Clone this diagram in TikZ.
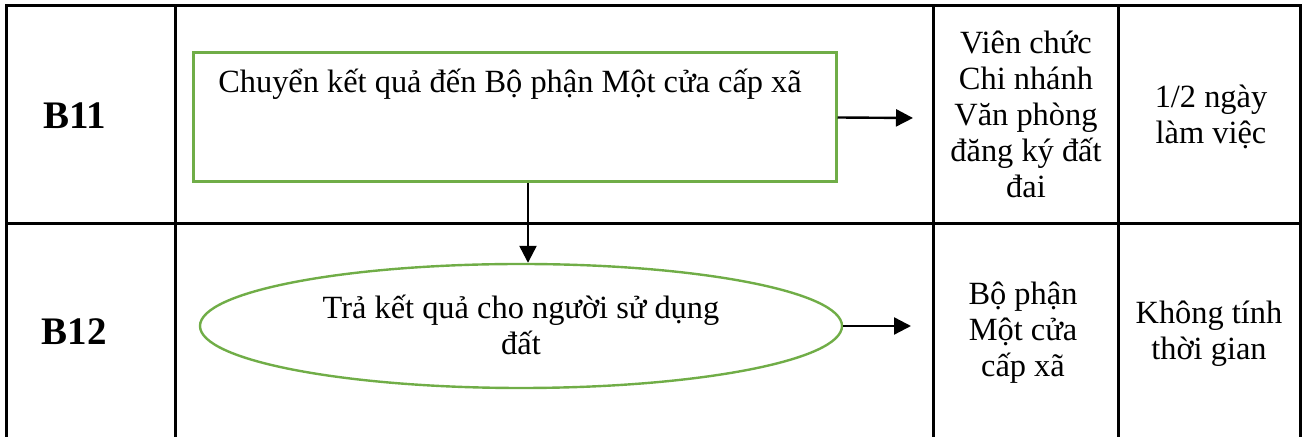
\documentclass[tikz,border=0pt]{standalone}
\usepackage{fontspec}
\setmainfont{Liberation Serif}
\usepackage{tikz}
\usetikzlibrary{arrows.meta,positioning,shapes.geometric}
\definecolor{flowgreen}{RGB}{112,173,71}

\begin{document}
\begin{tikzpicture}[x=0.5pt,y=-0.5pt,
    txt/.style={font=\fontsize{16.2}{18}\selectfont,inner sep=0pt,align=center},
    steplbl/.style={font=\fontsize{19.5}{21}\selectfont\bfseries,inner sep=0pt},
    flowbox/.style={draw=flowgreen,line width=1.5pt,minimum width=321.5pt,minimum height=64.5pt,inner sep=0pt},
    flowoval/.style={ellipse,draw=flowgreen,line width=1.2pt,minimum width=321pt,minimum height=62pt,inner sep=0pt},
    arr/.style={-{Triangle[length=8.5pt,width=8.5pt]},line width=1.2pt},
    grid/.style={line width=1.5pt}]
  \useasboundingbox (0,0) rectangle (1308,437);

  % table
  \draw[grid] (6,437) -- (6,6) -- (1300,6) -- (1300,437);
  \draw[grid] (6,224) -- (1300,224);
  \foreach \x in {175,933,1118} \draw[grid] (\x,6) -- (\x,437);

  % step labels
  \node[steplbl,anchor=base] (b11) at (75,129) {B11};
  \node[steplbl,anchor=base] (b12) at (74,345) {B12};

  % B11
  \node[flowbox] (box) at (514.5,117.5) {};
  \node[txt,anchor=base] (boxtext) at (510,93) {Chuyển kết quả đến Bộ phận Một cửa cấp xã};
  \coordinate (out11) at (913,118);
  \draw[arr] (box.east) -- (out11);
  \node[txt,anchor=base] (who11) at (1026,198) {Viên chức\\Chi nhánh\\Văn phòng\\đăng ký đất\\đai};
  \node[txt,anchor=base] (time11) at (1211,144) {1/2 ngày\\làm việc};

  % B12
  \node[flowoval] (oval) at (521,326) {};
  \node[txt,anchor=base] (ovaltext) at (521,355) {Trả kết quả cho người sử dụng\\đất};
  \coordinate (dn) at (528,0);
  \draw[arr] (box.south -| dn) -- (oval.north -| dn);
  \coordinate (out12) at (911,326);
  \draw[arr] (oval.east) -- (out12);
  \node[txt,anchor=base] (who12) at (1023,377) {Bộ phận\\Một cửa\\cấp xã};
  \node[txt,anchor=base] (time12) at (1209,360) {Không tính\\thời gian};
\end{tikzpicture}
\end{document}
